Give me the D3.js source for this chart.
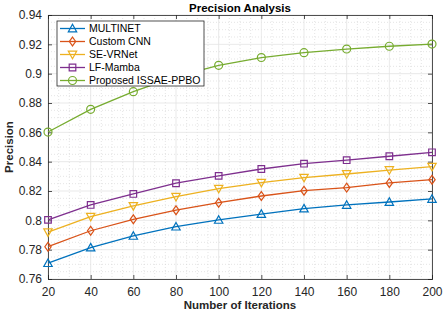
<!DOCTYPE html>
<html>
<head>
<meta charset="utf-8">
<script src="https://cdn.jsdelivr.net/npm/d3@7"></script>
<style>
  html, body { margin: 0; padding: 0; background: #fff; overflow: hidden; }
  svg { display: block; }
  text { font-family: "Liberation Sans", Arial, sans-serif; }
</style>
</head>
<body>
<div id="chart"></div>
<script>
// data
var iterations = [20, 40, 60, 80, 100, 120, 140, 160, 180, 200];
var seriesNames = ["MULTINET", "Custom CNN", "SE-VRNet", "LF-Mamba", "Proposed ISSAE-PPBO"];
var multinet = [0.7708, 0.7814, 0.7894, 0.7957, 0.8003, 0.8043, 0.8080, 0.8105, 0.8125, 0.8146];
var customCnn = [0.7820, 0.7929, 0.8007, 0.8069, 0.8120, 0.8166, 0.8202, 0.8223, 0.8255, 0.8277];
var seVrnet = [0.7919, 0.8025, 0.8098, 0.8161, 0.8216, 0.8257, 0.8291, 0.8316, 0.8343, 0.8366];
var lfMamba = [0.8003, 0.8105, 0.8180, 0.8253, 0.8303, 0.8350, 0.8386, 0.8410, 0.8437, 0.8464];
var proposed = [0.8602, 0.8757, 0.8877, 0.8980, 0.9057, 0.9110, 0.9143, 0.9168, 0.9187, 0.9202];
var yTicks = [0.76, 0.78, 0.8, 0.82, 0.84, 0.86, 0.88, 0.9, 0.92, 0.94];

var colors = ["#0072BD", "#D95319", "#EDB120", "#7E2F8E", "#77AC30"];
var markers = ["triangleUp", "diamond", "triangleDown", "square", "circle"];
var allSeries = [multinet, customCnn, seVrnet, lfMamba, proposed];

var width = 445, height = 313;
var margin = { top: 15, right: 13, bottom: 34, left: 48 };
var innerWidth = width - margin.left - margin.right,
    innerHeight = height - margin.top - margin.bottom;

var svg = d3.select("#chart").append("svg")
    .attr("width", width)
    .attr("height", height);

var g = svg.append("g")
    .attr("transform", "translate(" + margin.left + "," + margin.top + ")");

var x = d3.scaleLinear().domain([20, 200]).range([0, innerWidth]);
var y = d3.scaleLinear().domain([0.76, 0.94]).range([innerHeight, 0]);

// minor grid (dotted)
var minorX = d3.range(20, 200.1, 5).filter(v => v % 20 !== 0);
var minorY = d3.range(0, 37).map(i => 0.76 + i * 0.005).filter((v, i) => i % 4 !== 0);

g.selectAll(".minor-x").data(minorX).enter().append("line")
    .attr("x1", d => x(d)).attr("x2", d => x(d))
    .attr("y1", 0).attr("y2", innerHeight)
    .attr("stroke", "#d4d4d4").attr("stroke-width", 0.6)
    .attr("stroke-dasharray", "1,2");

g.selectAll(".minor-y").data(minorY).enter().append("line")
    .attr("x1", 0).attr("x2", innerWidth)
    .attr("y1", d => y(d)).attr("y2", d => y(d))
    .attr("stroke", "#d4d4d4").attr("stroke-width", 0.6)
    .attr("stroke-dasharray", "1,2");

// major grid
g.selectAll(".major-x").data(iterations).enter().append("line")
    .attr("x1", d => x(d)).attr("x2", d => x(d))
    .attr("y1", 0).attr("y2", innerHeight)
    .attr("stroke", "#e3e3e3").attr("stroke-width", 0.8);

g.selectAll(".major-y").data(yTicks).enter().append("line")
    .attr("x1", 0).attr("x2", innerWidth)
    .attr("y1", d => y(d)).attr("y2", d => y(d))
    .attr("stroke", "#e3e3e3").attr("stroke-width", 0.8);

// axes (ticks point inwards, like matlab)
var fmt = d => String(+d.toFixed(2));

var xAxis = g.append("g")
    .attr("transform", "translate(0," + innerHeight + ")")
    .call(d3.axisBottom(x).tickValues(iterations).tickSize(-4).tickPadding(8).tickFormat(d3.format("d")));
var yAxis = g.append("g")
    .call(d3.axisLeft(y).tickValues(yTicks).tickSize(-4).tickPadding(6).tickFormat(fmt));
var xTop = g.append("g")
    .call(d3.axisTop(x).tickValues(iterations).tickSize(-4).tickFormat(""));
var yRight = g.append("g")
    .attr("transform", "translate(" + innerWidth + ",0)")
    .call(d3.axisRight(y).tickValues(yTicks).tickSize(-4).tickFormat(""));

// box sides carry no labels
xTop.selectAll(".tick text").remove();
yRight.selectAll(".tick text").remove();

[xAxis, yAxis, xTop, yRight].forEach(function(a) {
    a.select(".domain").attr("stroke", "#262626").attr("stroke-width", 0.8);
    a.selectAll(".tick line").attr("stroke", "#262626").attr("stroke-width", 0.8);
    a.selectAll(".tick text")
        .attr("fill", "#262626")
        .style("font-size", "12px")
        .style("font-family", "'Liberation Sans', Arial, sans-serif");
});

// marker shapes
function markerPath(type) {
    var s = 4.2;
    if (type === "triangleUp") return "M0," + (-s) + "L" + s + "," + (s * 0.8) + "L" + (-s) + "," + (s * 0.8) + "Z";
    if (type === "triangleDown") return "M0," + s + "L" + s + "," + (-s * 0.8) + "L" + (-s) + "," + (-s * 0.8) + "Z";
    if (type === "diamond") return "M0," + (-s * 1.05) + "L" + (s * 0.75) + ",0L0," + (s * 1.05) + "L" + (-s * 0.75) + ",0Z";
    if (type === "square") return "M-3.3,-3.3H3.3V3.3H-3.3Z";
    return d3.symbol().type(d3.symbolCircle).size(50)();
}

var line = d3.line().x((d, i) => x(iterations[i])).y(d => y(d));

allSeries.forEach(function(vals, k) {
    g.append("path")
        .datum(vals)
        .attr("fill", "none")
        .attr("stroke", colors[k])
        .attr("stroke-width", 1.3)
        .attr("d", line);

    g.selectAll(".m" + k).data(vals).enter().append("path")
        .attr("transform", (d, i) => "translate(" + x(iterations[i]) + "," + y(d) + ")")
        .attr("d", markerPath(markers[k]))
        .attr("fill", "none")
        .attr("stroke", colors[k])
        .attr("stroke-width", 1.2);
});

// legend
var legend = svg.append("g").attr("transform", "translate(57,21)");
legend.append("rect")
    .attr("width", 147).attr("height", 65)
    .attr("fill", "#fff").attr("stroke", "#262626").attr("stroke-width", 0.8);

seriesNames.forEach(function(name, k) {
    var ly = 7.5 + k * 13;
    legend.append("line")
        .attr("x1", 3).attr("x2", 28).attr("y1", ly).attr("y2", ly)
        .attr("stroke", colors[k]).attr("stroke-width", 1.3);
    legend.append("path")
        .attr("transform", "translate(15.5," + ly + ")")
        .attr("d", markerPath(markers[k]))
        .attr("fill", "none").attr("stroke", colors[k]).attr("stroke-width", 1.2);
    legend.append("text")
        .attr("x", 32).attr("y", ly).attr("dy", "0.35em")
        .style("font-size", "10.5px")
        .attr("fill", "#000")
        .text(name);
});

// title and axis labels
svg.append("text")
    .attr("x", margin.left + innerWidth / 2).attr("y", 8)
    .attr("dy", "0.35em")
    .attr("text-anchor", "middle")
    .style("font-size", "11.5px").style("font-weight", "bold")
    .text("Precision Analysis");

svg.append("text")
    .attr("x", margin.left + innerWidth / 2).attr("y", 305)
    .attr("dy", "0.35em")
    .attr("text-anchor", "middle")
    .style("font-size", "11.5px").style("font-weight", "bold")
    .attr("fill", "#262626")
    .text("Number of Iterations");

svg.append("text")
    .attr("transform", "translate(9," + (margin.top + innerHeight / 2) + ") rotate(-90)")
    .attr("dy", "0.35em")
    .attr("text-anchor", "middle")
    .style("font-size", "11.5px").style("font-weight", "bold")
    .attr("fill", "#262626")
    .text("Precision");
</script>
</body>
</html>
